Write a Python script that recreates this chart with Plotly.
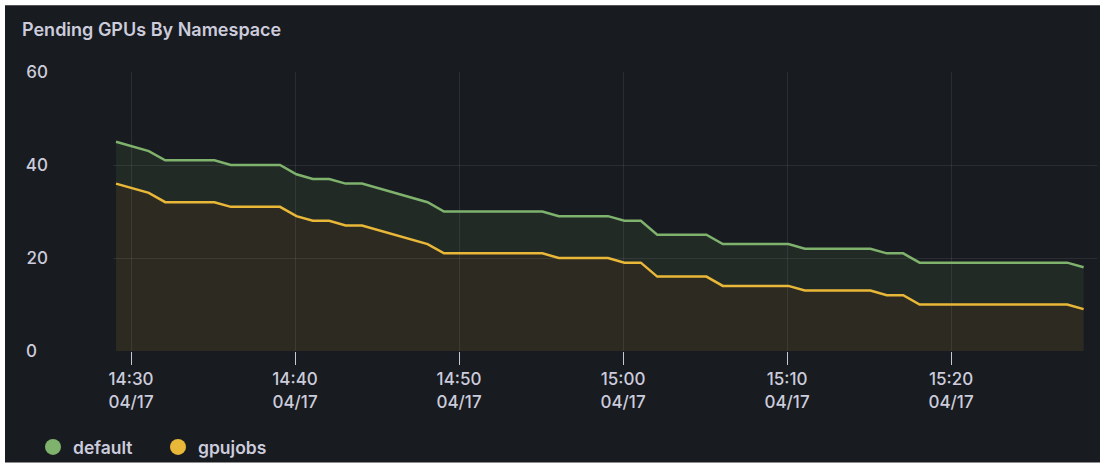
import pandas as pd
import plotly.graph_objects as go

# ---- data ----
start_time = "2024-04-17 14:29:05"
n_points = 60
times = pd.date_range(start=start_time, periods=n_points, freq="1min")

default_vals = [45, 44, 43, 41, 41, 41, 41, 40, 40, 40,
                40, 38, 37, 37, 36, 36, 35, 34, 33, 32,
                30, 30, 30, 30, 30, 30, 30, 29, 29, 29,
                29, 28, 28, 25, 25, 25, 25, 23, 23, 23,
                23, 23, 22, 22, 22, 22, 22, 21, 21, 19,
                19, 19, 19, 19, 19, 19, 19, 19, 19, 18]
gpujobs_vals = [36, 35, 34, 32, 32, 32, 32, 31, 31, 31,
                31, 29, 28, 28, 27, 27, 26, 25, 24, 23,
                21, 21, 21, 21, 21, 21, 21, 20, 20, 20,
                20, 19, 19, 16, 16, 16, 16, 14, 14, 14,
                14, 14, 13, 13, 13, 13, 13, 12, 12, 10,
                10, 10, 10, 10, 10, 10, 10, 10, 10, 9]

series_names = ["default", "gpujobs"]
series_colors = ["#7EB26D", "#EAB839"]
fill_colors = ["rgba(126,178,109,0.10)", "rgba(234,184,57,0.10)"]

y_tickvals = [0, 20, 40, 60]
y_ticktext = ["0\u2007", "20", "40", "60"]
x_range = ["2024-04-17 14:28:54", "2024-04-17 15:28:54"]
title_text = "Pending GPUs By Namespace"

# ---- style ----
BG = "#181b1f"
TXT = "#ccccdc"
GRID = "rgba(204,204,220,0.10)"
FONT = "Inter, Roboto, 'Open Sans', sans-serif"

W, H = 1100, 466
ML, MR, MT, MB = 113, 3, 72, 114

fig = go.Figure()

# gpujobs first (fills to zero), default fills down to gpujobs
fig.add_trace(go.Scatter(
    x=times, y=gpujobs_vals, name=series_names[1], mode="lines",
    line=dict(color=series_colors[1], width=2.5),
    fill="tozeroy", fillcolor=fill_colors[1], showlegend=False))
fig.add_trace(go.Scatter(
    x=times, y=default_vals, name=series_names[0], mode="lines",
    line=dict(color=series_colors[0], width=2.5),
    fill="tonexty", fillcolor=fill_colors[0], showlegend=False))

# legend entries with circle markers
for name, col in zip(series_names, series_colors):
    fig.add_trace(go.Scatter(
        x=[None], y=[None], name=name, mode="markers",
        marker=dict(color=col, size=20, symbol="circle"),
        showlegend=True))

pw = W - ML - MR
ph = H - MT - MB

fig.update_layout(
    width=W, height=H,
    margin=dict(l=ML, r=MR, t=MT, b=MB, pad=0),
    paper_bgcolor="white",
    plot_bgcolor=BG,
    font=dict(family=FONT, color=TXT, size=17),
    title=dict(text=title_text, x=22 / W, xanchor="left", xref="container",
               y=1 - 30 / H, yanchor="middle", yref="container",
               font=dict(family=FONT, size=18, color=TXT, weight=600)),
    showlegend=True,
    legend=dict(orientation="h", x=(33 - ML) / pw, xanchor="left",
                y=-(447 - MT - ph) / ph, yanchor="middle",
                font=dict(family=FONT, size=17.5, color=TXT, weight=600),
                bgcolor="rgba(0,0,0,0)", itemwidth=30,
                entrywidth=80, entrywidthmode="pixels",
                traceorder="normal"),
    shapes=[dict(type="rect", xref="paper", yref="paper", layer="below",
                 x0=(5 - ML) / pw, x1=(W + 10 - ML) / pw,
                 y0=-(464 - MT - ph) / ph, y1=1 + (MT - 5) / ph,
                 fillcolor=BG, line=dict(width=0))],
    hovermode=False,
)

fig.update_xaxes(
    type="date", range=x_range,
    tickformat="%H:%M<br>%m/%d", dtick=10 * 60 * 1000,
    tick0="2024-04-17 14:30:00",
    showgrid=True, gridcolor=GRID, gridwidth=1,
    ticks="outside", ticklen=13, tickcolor="#c8c8d4", tickwidth=1,
    tickfont=dict(family=FONT, size=17, color=TXT, weight=500),
    showline=False, zeroline=False,
)
fig.update_yaxes(
    range=[0, 60], tickvals=y_tickvals, ticktext=y_ticktext,
    showgrid=True, gridcolor=GRID, gridwidth=1,
    ticks="", ticklabelstandoff=64,
    tickfont=dict(family=FONT, size=17, color=TXT, weight=500),
    showline=False, zeroline=False,
)

fig.write_html("out.html",
               config={"displayModeBar": False},
               post_script="document.body.style.margin='0';"
                           "document.body.style.overflow='hidden';")
